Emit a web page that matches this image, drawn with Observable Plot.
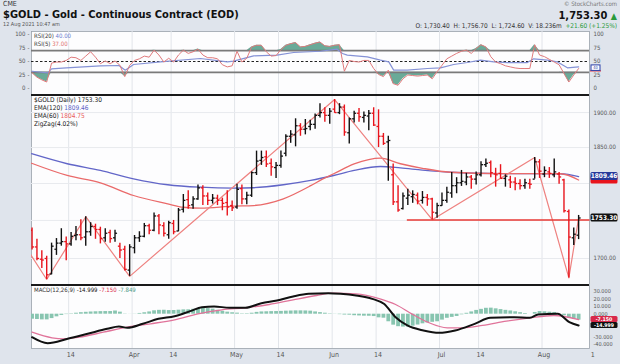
<!DOCTYPE html>
<html><head><meta charset="utf-8">
<script src="https://cdn.jsdelivr.net/npm/d3@7"></script>
<script src="https://cdn.jsdelivr.net/npm/@observablehq/plot@0.6"></script>
<style>
body{margin:0;background:#dfe4ec;width:620px;height:364px;overflow:hidden;position:relative;font-family:"Liberation Sans Narrow","DejaVu Sans Condensed","Liberation Sans",Arial,sans-serif;color:#222}
.a{position:absolute;white-space:nowrap;line-height:1}
.sep{position:absolute;left:31px;width:558px;height:2px;background:#1a1a1a}
</style></head><body>
<div class="a" style="left:3px;top:1px;font-size:7px;color:#333">CME</div>
<div class="a" style="left:3px;top:9px;font-size:11px;font-weight:bold;color:#111">$GOLD - Gold - Continuous Contract (EOD)</div>
<div class="a" style="left:3px;top:22px;font-size:5.5px;color:#555">12 Aug 2021 10:47 am</div>
<div class="a" style="right:3px;top:1px;font-size:6px;color:#777">© StockCharts.com</div>
<div class="a" style="right:3px;top:10px;font-size:11px;font-weight:bold;color:#111">1,753.30 <span style="color:#2a9a3a;font-size:9px">▲</span></div>
<div class="a" style="right:3px;top:23px;font-size:6.5px;color:#333">O: 1,730.40 &nbsp;H: 1,756.70 &nbsp;L: 1,724.60 &nbsp;V: 18.236m &nbsp;<span style="color:#2a9a3a">+21.60 (+1.25%)</span></div>
<script>
const FONT = '"Liberation Sans Narrow","DejaVu Sans Condensed","Liberation Sans",Arial,sans-serif';
// ---------- data (trading-day index: 0 = 1 Mar 2021) ----------
const startIndex = 2;          // first bar: 3 Mar 2021
const priorClose = 1733.6;     // close of 2 Mar 2021
const open  = [1737,1715,1699,1700,1680,1712,1720,1722,1719,1730,1731,1728,1735,1742,1738,1727,1734,1727,1716,1712,1685,1714,1727,1729,1743,1737,1756,1743,1731,1746,1736,1765,1778,1771,1779,1794,1783,1777,1780,1777,1774,1770,1768,1793,1779,1784,1815,1832,1837,1828,1822,1825,1842,1866,1868,1881,1876,1880,1883,1896,1900,1896,1905,1900,1908,1871,1891,1899,1893,1895,1899,1880,1866,1858,1812,1775,1766,1780,1782,1784,1777,1781,1779,1760,1770,1777,1787,1797,1801,1802,1809,1806,1812,1826,1829,1813,1814,1807,1805,1802,1800,1797,1800,1806,1830,1813,1816,1812,1813,1805,1762,1727,1730.4];
const high  = [1740,1725,1710,1703,1720,1726,1739,1728,1734,1742,1751,1755,1747,1745,1741,1739,1737,1737,1720,1716,1718,1730,1735,1746,1745,1760,1758,1747,1749,1750,1766,1785,1790,1782,1798,1797,1787,1785,1784,1780,1790,1776,1799,1798,1788,1816,1845,1845,1845,1834,1829,1845,1868,1874,1891,1884,1890,1889,1898,1913,1907,1906,1919,1913,1911,1892,1902,1906,1901,1903,1907,1904,1870,1866,1827,1797,1787,1792,1790,1787,1789,1785,1780,1773,1787,1795,1815,1808,1818,1814,1811,1816,1830,1834,1831,1821,1826,1812,1810,1808,1805,1806,1806,1836,1833,1823,1822,1834,1815,1806,1764,1740,1756.7];
const low   = [1711,1697,1687,1673,1679,1704,1716,1697,1716,1723,1723,1716,1729,1725,1719,1721,1720,1721,1700,1684,1677,1706,1721,1727,1731,1735,1731,1728,1725,1731,1735,1760,1765,1765,1777,1770,1770,1772,1770,1763,1756,1762,1765,1771,1771,1781,1811,1825,1822,1810,1807,1821,1837,1856,1851,1866,1868,1874,1876,1892,1886,1883,1899,1897,1866,1855,1885,1886,1885,1874,1880,1850,1853,1803,1770,1761,1764,1770,1773,1771,1772,1769,1751,1753,1769,1773,1780,1786,1796,1797,1792,1798,1809,1822,1808,1795,1806,1795,1793,1790,1791,1792,1792,1806,1807,1808,1807,1808,1799,1760,1675,1717,1724.6];
const close = [1715,1700,1698,1679,1716,1720,1722,1719,1729,1731,1727,1735,1742,1738,1726,1733,1726,1733,1711,1686,1715,1727,1729,1743,1737,1756,1744,1733,1747,1735,1764,1777,1770,1779,1794,1783,1777,1780,1777,1773,1768,1767,1792,1779,1784,1815,1831,1836,1827,1823,1825,1838,1866,1869,1881,1876,1877,1883,1896,1900,1896,1902,1900,1908,1872,1891,1899,1894,1896,1899,1882,1866,1856,1860,1775,1764,1783,1784,1785,1776,1781,1779,1761,1770,1777,1788,1797,1801,1803,1809,1806,1812,1826,1828,1815,1812,1807,1810,1802,1800,1797,1801,1799,1830,1817,1818,1814,1816,1809,1763,1728,1731.7,1753.3];
// EMA samples [trading-day index, value]
const ema120 = [[1.9,1841.3],[9.2,1827.3],[16,1818],[22.8,1806.5],[29.8,1798.3],[36.5,1794.9],[43.3,1793.6],[47.4,1794.2],[53.5,1798.3],[59.1,1804.2],[63.8,1811],[68,1818],[73.4,1823.5],[77.5,1821.5],[82,1818.5],[87.7,1815.5],[98,1813.5],[104,1813.5],[110.3,1813.4],[114,1809.46]];
const ema60  = [[1.9,1828],[9.2,1811.1],[16,1801],[22.8,1783.6],[29.8,1772.3],[33,1767.7],[36.5,1766.4],[43.3,1769.2],[47.4,1770],[53.5,1779.1],[59.1,1797],[61.5,1806],[63.8,1813.4],[68,1827],[73.4,1835.1],[77.5,1827.3],[82,1821],[87.7,1815.5],[98,1813.5],[104,1813.5],[110.3,1813.4],[114,1804.75]];
const zigzag = [[0,1722],[5,1673],[13,1755],[22,1677],[64,1919],[84,1751],[105,1836],[112,1675],[114,1753.3]];
const supportPrice = 1750.6, supportFrom = 78.8;
// RSI(5) per bar, RSI(20) samples
const rsi5 = [29,21,16,12,47,49,49,52,58,57,52,60,68,58,46,51,46,51,43,22,43,52,55,60,58,71,62,49,56,49,62,71,65,68,73,62,57,57,55,44,40,42,69,49,56,77,80,80,68,60,61,72,80,83,85,77,78,81,84,86,79,78,80,81,32,52,50,49,52,52,37,26,22,34,9,6,18,25,24,23,24,25,18,31,43,55,60,65,69,71,65,74,81,77,59,49,46,42,40,38,37,37,37,81,62,59,54,49,44,28,12,25,37];
const rsi20 = [[2,32],[5.2,29],[6,36.4],[9,38.3],[16,42],[19.8,42.6],[21.1,34],[22.8,44.4],[28.3,49.4],[36.5,55.6],[42,49.4],[43.3,50.6],[47.4,60.5],[52.2,61.7],[55.6,66.7],[61.1,69],[64.5,72.8],[65.6,64.8],[66.6,61.7],[70.7,58.6],[73.4,52.5],[75.1,49.4],[76.1,34],[78.9,34],[83,37],[85.7,38.3],[88.4,44.4],[91.2,48.1],[93.9,52.5],[96.6,49.4],[99.4,48.1],[103.5,48.1],[104.8,55],[107.6,52.5],[109.6,49.4],[111.7,38.3],[114,40]];
// MACD(12,26,9)
const macdLine = [[2,-30.4],[5.2,-38.3],[9.3,-32.5],[13.4,-25.9],[17.4,-19.3],[19.8,-16.2],[21.5,-18],[24.7,-12.7],[27.9,-6.1],[31.2,-2.6],[34.4,4],[36.8,9.2],[39.3,10.2],[42.5,8.5],[45.7,8.5],[49,14.5],[52.2,18.1],[55.5,23.4],[58.7,26.9],[62.7,27.7],[65.2,26.9],[68.4,24.7],[71.7,20.3],[74.1,13.7],[76.5,-4],[78.9,-14.9],[82.2,-21.5],[85.4,-24.6],[88.7,-21.5],[92.7,-12.7],[95.9,-4.8],[100.8,-4],[104,-4.8],[105.7,-0.4],[109.7,0.5],[112.1,-10.6],[114,-15]];
const signalLine = [[2,-23.8],[6.1,-31.2],[8.5,-32.5],[11.7,-30.4],[16.6,-23.8],[21.5,-17.2],[26.3,-12.7],[31.2,-7.4],[36,0.5],[40.9,5.8],[45.7,8.5],[50.6,12.8],[55.5,19],[60.3,24.7],[63.6,27.7],[68.4,26.9],[73.3,20.3],[76.5,12.8],[79.8,0.5],[83.1,-10.6],[87.1,-18],[90.3,-18],[94.3,-14.9],[99.2,-9.2],[104,-4.8],[108.9,-1.7],[114,-7.15]];
const histogram = [-6.6,-7,-7.5,-7.5,-5.8,-3.5,-1.6,-0.5,0.5,1.3,2,2.5,2.9,3.2,3.4,3.5,3.5,4.2,2.7,-0.3,0.1,0.2,1,1.9,3,4.5,5.1,5.2,4.8,4.9,5.3,5.7,5.8,6.5,7.4,8.1,7.4,6.7,5.2,3.8,2.7,1.9,1.4,0.5,0.6,1.3,2.4,3,3.2,3.4,3.5,3.7,4,4.2,4.4,4.4,4.3,4,3,2.1,1.3,0.5,-0.2,-0.6,-1.1,-1.3,-2,-2.3,-2.6,-2.7,-3.1,-4.8,-5.3,-10,-14.5,-16.5,-17,-17,-15.8,-14.3,-12.7,-11.6,-10.7,-10,-7.8,-5.4,-4.2,-3,-0.8,1.2,3,5,6.4,7.8,8,7.1,6.1,5.1,4.3,3.2,2,0.9,0,2.2,3.5,3.2,2.7,2.3,0.3,-2,-5.6,-6.8,-7.85];
// axis ticks
const tickIdx = [10,23,31,44,53,64,73,86,94,107,117];
const tickLabels = ["14","Apr","14","May","14","Jun","14","Jul","14","Aug","1"];
const rsiTicks = [0,25,50,75,100];
const priceTicks = [1700,1850,1900];
const priceGrid = [1700,1750,1800,1850,1900];
const macdTicks = [30,20,10,0,-30,-40];

// ---------- build ----------
const RED = "#e8141c", BLACK = "#111";
const bars = open.map((o,k)=>({i:startIndex+k,o,h:high[k],l:low[k],c:close[k],up:close[k] >= (k?close[k-1]:priorClose)}));
const pts = a => a.map(([i,v])=>({i,v}));
const rsiData = rsi5.map((v,k)=>({i:startIndex+k,v}));
const histData = histogram.map((v,k)=>({i:startIndex+k,v}));
const ticks = tickIdx.map((t,k)=>({x:t-0.5,label:tickLabels[k]}));
const xDomain = [1.885,116.23];
const base = {width:620, marginLeft:31, marginRight:31, x:{domain:xDomain, axis:null}};
const st = {background:"transparent", fontFamily:FONT, fontSize:"6px", overflow:"visible"};
const gridX = Plot.ruleX(ticks,{x:"x",stroke:"#e2e5ea",strokeWidth:1});
function place(el, top){el.style.position="absolute";el.style.left="0px";el.style.top=top+"px";document.body.appendChild(el);return el;}
function box(svg, y, label, fill, color, h){
  h = h || 8;
  const g = d3.select(svg).append("g");
  g.append("rect").attr("x",590.5).attr("y",y-h/2).attr("width",27).attr("height",h).attr("rx",1.5).attr("fill",fill);
  if (label) g.append("text").attr("x",604).attr("y",y).attr("dy","0.35em").attr("text-anchor","middle").attr("fill",color).attr("font-size",h<8?5.2:6.5).attr("font-weight","bold").attr("font-family",FONT).text(label);
}

// RSI panel
const rsiPlot = Plot.plot({...base, height:64, marginTop:0, marginBottom:0, style:st,
  y:{domain:[-12.96,105.56], axis:null},
  marks:[
    Plot.frame({fill:"#fdfdfe", stroke:"#9aa1ab", strokeWidth:0.8}),
    gridX,
    Plot.areaY(rsiData,{x:"i",y1:70,y2:d=>Math.max(70,d.v),fill:"#6aaa98",clip:true}),
    Plot.areaY(rsiData,{x:"i",y1:30,y2:d=>Math.min(30,d.v),fill:"#6aaa98",clip:true}),
    Plot.ruleY([70,30],{stroke:"#7a7a7a",strokeWidth:1.8}),
    Plot.ruleY([50],{stroke:"#222",strokeWidth:1,strokeDasharray:"2.5,2"}),
    Plot.line(pts(rsi20),{x:"i",y:"v",stroke:"#8592d6",strokeWidth:1.2,clip:true}),
    Plot.line(rsiData,{x:"i",y:"v",stroke:"#e07a7c",strokeWidth:1,clip:true}),
    Plot.text(rsiTicks,{y:d=>d,text:d=>String(d),frameAnchor:"left",dx:-6,textAnchor:"end",fill:"#555"}),
    Plot.text(rsiTicks,{y:d=>d,text:d=>"-",frameAnchor:"left",dx:-2,textAnchor:"end",fill:"#555"}),
    Plot.text(rsiTicks,{y:d=>d,text:d=>String(d),frameAnchor:"right",dx:4,textAnchor:"start",fill:"#555"})
  ]});
place(rsiPlot,31);
{
  const y = rsiPlot.scale("y");
  const y40 = y.apply(40) + 1;
  const g = d3.select(rsiPlot).append("g");
  g.append("line").attr("x1",590).attr("x2",601).attr("y1",y40+3.5).attr("y2",y40+3.5).attr("stroke",RED).attr("stroke-width",1);
  g.append("rect").attr("x",591).attr("y",y40-2.5).attr("width",9).attr("height",5.5).attr("fill","#fff").attr("stroke","#2b3fa8").attr("stroke-width",1);
  g.append("text").attr("x",595.5).attr("y",y40+0.3).attr("dy","0.35em").attr("text-anchor","middle").attr("font-size",4).attr("fill","#2b3fa8").attr("font-family",FONT).text("40");
}

// Price panel
const pricePlot = Plot.plot({...base, height:189, marginTop:0, marginBottom:0, style:st,
  y:{type:"log", domain:[1666.6,1924.9], axis:null},
  marks:[
    Plot.frame({fill:"#fdfdfe", stroke:"#9aa1ab", strokeWidth:0.8}),
    gridX,
    Plot.ruleY(priceGrid,{stroke:"#e8eaee"}),
    Plot.line(pts(ema120),{x:"i",y:"v",curve:"monotone-x",stroke:"#6266c8",strokeWidth:1.3,clip:true}),
    Plot.line(pts(ema60),{x:"i",y:"v",curve:"monotone-x",stroke:"#ea6a6a",strokeWidth:1.3,clip:true}),
    Plot.line(zigzag.map(([i,p])=>({i,p})),{x:"i",y:"p",stroke:"#ee8280",strokeWidth:1.2,clip:true}),
    Plot.link([{p:supportPrice,from:supportFrom}],{x1:"from",x2:()=>xDomain[1],y1:"p",y2:"p",stroke:"#e83a34",strokeWidth:1.6}),
    Plot.ruleX(bars,{x:"i",y1:"l",y2:"h",stroke:d=>d.up?BLACK:RED,strokeWidth:1.4,clip:true}),
    Plot.link(bars,{x1:d=>d.i-0.42,x2:"i",y1:"o",y2:"o",stroke:d=>d.up?BLACK:RED,strokeWidth:1.3,clip:true}),
    Plot.link(bars,{x1:"i",x2:d=>d.i+0.42,y1:"c",y2:"c",stroke:d=>d.up?BLACK:RED,strokeWidth:1.3,clip:true}),
    Plot.text(priceTicks,{y:d=>d,text:d=>d.toFixed(2),frameAnchor:"right",dx:4,textAnchor:"start",fill:"#555"})
  ]});
place(pricePlot,95);
{
  const y = pricePlot.scale("y");
  box(pricePlot, y.apply(1804.75), "", RED, "#fff");
  box(pricePlot, y.apply(1809.46), "1809.46", "#26399a", "#fff");
  box(pricePlot, y.apply(1753.3), "1753.30", "#111", "#fff");
}

// MACD panel
const macdPlot = Plot.plot({...base, height:80, marginTop:1, marginBottom:16, style:st,
  y:{domain:[-45.3,37.9], axis:null},
  marks:[
    Plot.frame({fill:"#fdfdfe", stroke:"#9aa1ab", strokeWidth:0.8}),
    gridX,
    Plot.ruleX(histData,{x:"i",y1:0,y2:"v",stroke:"#88c5b0",strokeWidth:3.8,clip:true}),
    Plot.line(pts(signalLine),{x:"i",y:"v",curve:"monotone-x",stroke:"#e0739a",strokeWidth:1.3,clip:true}),
    Plot.line(pts(macdLine),{x:"i",y:"v",curve:"monotone-x",stroke:"#111",strokeWidth:2,clip:true}),
    Plot.text(macdTicks,{y:d=>d,text:d=>d.toFixed(3),frameAnchor:"right",dx:4,textAnchor:"start",fill:"#555",fontSize:5.5}),
    Plot.text(ticks,{x:"x",text:"label",frameAnchor:"bottom",dy:8,dx:2,fill:"#555",fontSize:7})
  ]});
place(macdPlot,284);
{
  const y = macdPlot.scale("y");
  box(macdPlot, y.apply(-7.15), "-7.150", "#d8284a", "#fff", 6);
  box(macdPlot, y.apply(-14.999), "-14.999", "#111", "#fff", 6);
}
</script>
<div class="sep" style="top:93.5px"></div>
<div class="sep" style="top:283.5px"></div>
<div class="a" style="left:34px;top:33px;font-size:6px;color:#333">RSI(20) <span style="color:#6b7bd0">40.00</span></div>
<div class="a" style="left:34px;top:41px;font-size:6px;color:#333">RSI(5) <span style="color:#e07070">37.00</span></div>
<div class="a" style="left:34px;top:97px;font-size:6.5px;color:#222">$GOLD (Daily) 1753.30</div>
<div class="a" style="left:34px;top:105px;font-size:6.5px;color:#222">EMA(120) <span style="color:#5a5fc5">1809.46</span></div>
<div class="a" style="left:34px;top:113px;font-size:6.5px;color:#222">EMA(60) <span style="color:#e85a5a">1804.75</span></div>
<div class="a" style="left:34px;top:121px;font-size:6.5px;color:#222">ZigZag(4.02%)</div>
<div class="a" style="left:34px;top:287px;font-size:6px;color:#333">MACD(12,26,9) <span style="color:#111">-14.999</span> <span style="color:#d8284a">-7.150</span> <span style="color:#4f9a86">-7.849</span></div>
</body></html>
